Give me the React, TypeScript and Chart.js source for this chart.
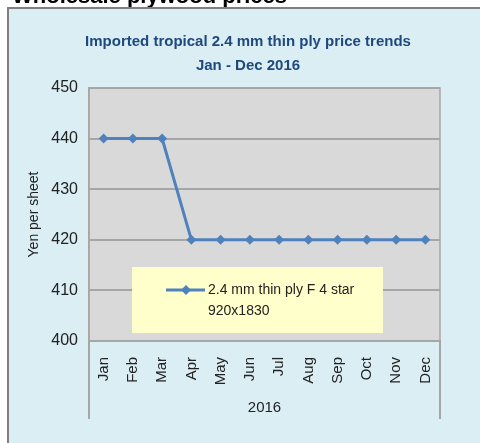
import React, { useEffect, useRef } from "react";
import { Chart, registerables } from "chart.js";

Chart.register(...registerables);

const heading = "Wholesale plywood prices";
const titleLines = ["Imported tropical 2.4 mm thin ply price trends", "Jan - Dec 2016"];
const months = ["Jan", "Feb", "Mar", "Apr", "May", "Jun", "Jul", "Aug", "Sep", "Oct", "Nov", "Dec"];
const prices = [440, 440, 440, 420, 420, 420, 420, 420, 420, 420, 420, 420];
const yMin = 400;
const yMax = 450;
const yStep = 10;
const seriesLabel = ["2.4 mm thin ply F 4 star", "920x1830"];
const yTitle = "Yen per sheet";
const xTitle = "2016";

const SANS = "'Liberation Sans', Arial, sans-serif";
const LINE_COLOR = "#4F81BD";
const GRID = "#A6A6A6";

const framePlugin = {
  id: "frame",
  beforeDraw(chart: any) {
    const { ctx, chartArea: ca } = chart;
    ctx.save();
    // heading (partly cut off at top)
    ctx.fillStyle = "#000";
    ctx.font = `bold 22px ${SANS}`;
    ctx.textBaseline = "alphabetic";
    ctx.textAlign = "left";
    ctx.fillText(heading, 12, 3);
    // light blue box
    ctx.fillStyle = "#DAEEF3";
    ctx.fillRect(8, 8, 472, 435);
    ctx.strokeStyle = "#7F7F7F";
    ctx.lineWidth = 2;
    ctx.beginPath();
    ctx.moveTo(8, 443);
    ctx.lineTo(8, 8);
    ctx.lineTo(480, 8);
    ctx.stroke();
    // chart title
    ctx.fillStyle = "#1F497D";
    ctx.font = `bold 15px ${SANS}`;
    ctx.textAlign = "center";
    ctx.textBaseline = "middle";
    titleLines.forEach((t, i) => ctx.fillText(t, 248, 42 + i * 24));
    // plot area
    ctx.fillStyle = "#D9D9D9";
    ctx.fillRect(ca.left, ca.top, ca.right - ca.left, ca.bottom - ca.top);
    ctx.restore();
  },
  afterDraw(chart: any) {
    const { ctx, chartArea: ca } = chart;
    ctx.save();
    ctx.strokeStyle = GRID;
    ctx.lineWidth = 1.5;
    ctx.strokeRect(ca.left, ca.top, ca.right - ca.left, ca.bottom - ca.top);
    ctx.lineWidth = 2;
    ctx.beginPath();
    ctx.moveTo(ca.left, ca.bottom);
    ctx.lineTo(ca.left, ca.bottom + 78);
    ctx.moveTo(ca.right, ca.bottom);
    ctx.lineTo(ca.right, ca.bottom + 78);
    ctx.stroke();

    // legend box inside plot area
    const bx = ca.left + 43;
    const by = ca.top + 179;
    const bw = 251;
    const bh = 66;
    ctx.fillStyle = "#FFFFCC";
    ctx.fillRect(bx, by, bw, bh);
    const ly = by + 23;
    ctx.strokeStyle = LINE_COLOR;
    ctx.lineWidth = 3;
    ctx.beginPath();
    ctx.moveTo(bx + 34, ly);
    ctx.lineTo(bx + 73, ly);
    ctx.stroke();
    const dx = bx + 54;
    ctx.fillStyle = LINE_COLOR;
    ctx.beginPath();
    ctx.moveTo(dx, ly - 5);
    ctx.lineTo(dx + 5, ly);
    ctx.lineTo(dx, ly + 5);
    ctx.lineTo(dx - 5, ly);
    ctx.closePath();
    ctx.fill();
    ctx.fillStyle = "#222";
    ctx.font = `14px ${SANS}`;
    ctx.textBaseline = "middle";
    ctx.textAlign = "left";
    seriesLabel.forEach((t, i) => ctx.fillText(t, bx + 76, ly + i * 21));
    ctx.restore();
  },
};

export default function App() {
  const ref = useRef<HTMLCanvasElement | null>(null);
  useEffect(() => {
    if (!ref.current) return;
    const chart = new Chart(ref.current, {
      type: "line",
      data: {
        labels: months,
        datasets: [
          {
            label: seriesLabel.join(" "),
            data: prices,
            borderColor: LINE_COLOR,
            backgroundColor: LINE_COLOR,
            borderWidth: 3,
            pointStyle: "rectRot",
            pointRadius: 5,
            pointBorderWidth: 0,
            pointBackgroundColor: LINE_COLOR,
            tension: 0,
          },
        ],
      },
      options: {
        responsive: false,
        animation: false,
        devicePixelRatio: 1,
        layout: { padding: { left: 20, right: 40, top: 88, bottom: 0 } },
        plugins: {
          legend: { display: false },
          tooltip: { enabled: false },
          title: { display: false },
        },
        scales: {
          x: {
            offset: true,
            grid: { display: false },
            border: { display: true, color: GRID, width: 1.5 },
            ticks: {
              maxRotation: 90,
              minRotation: 90,
              color: "#222",
              font: { family: SANS, size: 15 },
              padding: 8,
            },
            title: {
              display: true,
              text: xTitle,
              color: "#222",
              font: { family: SANS, size: 15 },
              padding: { top: 0, bottom: 26 },
            },
            afterFit(scale: any) {
              scale.height = 102;
            },
          },
          y: {
            min: yMin,
            max: yMax,
            ticks: {
              stepSize: yStep,
              color: "#222",
              font: { family: SANS, size: 16 },
              padding: 11,
            },
            grid: { color: GRID, lineWidth: 2, drawTicks: false },
            border: { display: true, color: GRID, width: 1.5 },
            title: {
              display: true,
              text: yTitle,
              color: "#222",
              font: { family: SANS, size: 14 },
              padding: { top: 6, bottom: 0 },
            },
            afterFit(scale: any) {
              scale.width = 69;
            },
          },
        },
      },
      plugins: [framePlugin],
    });
    return () => chart.destroy();
  }, []);
  return (
    <div style={{ position: "fixed", left: 0, top: 0, width: 480, height: 443, overflow: "hidden" }}>
      <canvas ref={ref} width={480} height={443} style={{ display: "block" }} />
    </div>
  );
}
